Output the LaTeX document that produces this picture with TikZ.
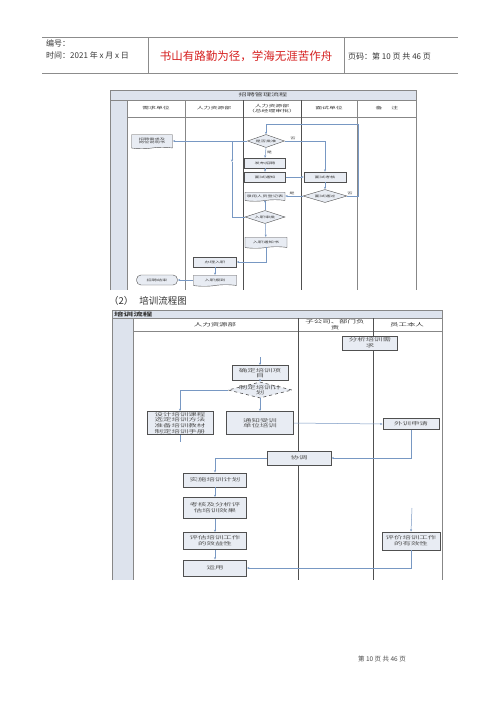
\documentclass[tikz,border=0pt]{standalone}
\usepackage{fontspec}
\setmainfont{Noto Sans CJK SC}
\newfontfamily\flowfont[FakeStretch=1.8]{Noto Sans CJK SC}
\usetikzlibrary{arrows.meta,shapes.geometric,shapes.symbols}
\definecolor{L1}{RGB}{135,135,135}
\definecolor{L2}{RGB}{80,80,80}
\definecolor{S1}{RGB}{221,227,237}
\definecolor{F1}{RGB}{232,236,243}
\definecolor{A1}{RGB}{120,152,195}
\definecolor{T1}{RGB}{55,55,55}
\definecolor{R1}{RGB}{214,32,32}
\tikzset{
  pagerule/.style={black!45, line width=0.8pt},
  pagetext/.style={font=\fontsize{8}{9}\selectfont, text=T1, inner sep=0pt},
  motto/.style={font=\fontsize{11.5}{12}\selectfont, text=R1, inner sep=0pt},
  frame/.style={L1, line width=0.5pt},
  lane/.style={L2, line width=0.9pt},
  flow/.style={A1, line width=0.5pt, -{Stealth[length=2.5pt,width=2pt]}},
  link/.style={A1, line width=0.5pt},
  tinyfont/.style={font=\flowfont\fontsize{2.9}{3.5}\selectfont},
  smallfont/.style={font=\flowfont\fontsize{4.7}{5.6}\selectfont},
  titleA/.style={font=\flowfont\fontsize{4.5}{5}\selectfont, text=T1, inner sep=0pt},
  headA/.style={font=\flowfont\fontsize{3.8}{4.4}\selectfont, text=T1, align=center, inner sep=0pt},
  boxA/.style={draw=L2, fill=F1, line width=0.4pt, inner sep=0.3pt, align=center,
    text=T1, tinyfont, minimum width=41pt, minimum height=10pt},
  docA/.style={boxA, tape, tape bend top=none, tape bend height=1.5pt},
  decA/.style={draw=L2, fill=F1, line width=0.4pt, diamond, inner sep=0pt,
    minimum width=40pt, minimum height=13pt},
  endA/.style={boxA, rounded corners=4.5pt},
  lblA/.style={tinyfont, text=T1, inner sep=0.3pt},
  inA/.style={tinyfont, text=T1, align=center},
  titleB/.style={font=\flowfont\bfseries\fontsize{5.3}{6}\selectfont, text=T1, inner sep=0pt},
  headB/.style={smallfont, text=T1, align=center, inner sep=0pt},
  boxB/.style={draw=L2, fill=F1, line width=0.8pt, inner sep=0.5pt, align=center,
    text=T1!85, smallfont, minimum width=63pt},
  decB/.style={draw=L2, fill=F1, line width=0.6pt, dashed, diamond, inner sep=0pt,
    minimum width=64pt, minimum height=16pt},
  inB/.style={smallfont, text=T1!85, align=center}
}
\begin{document}
\begin{tikzpicture}[x=1pt, y=-1pt]
\useasboundingbox[fill=white] (0,0) rectangle (500,707);

% page header
\draw[pagerule] (42,37) -- (458,37);
\draw[pagerule] (42,73) -- (458,73);
\draw[pagerule] (148,37) -- (148,73);
\draw[pagerule] (344,37) -- (344,73);
\node[pagetext, anchor=west] (num) at (46,43) {编号：};
\node[pagetext, anchor=west] (date) at (46,55) {时间：2021 年 x 月 x 日};
\node[motto] (motto) at (246,56) {书山有路勤为径，学海无涯苦作舟};
\node[pagetext, anchor=west] (page) at (348,56) {页码：第 10 页 共 46 页};

% chart 1: frame
\fill[S1] (110,90) rectangle (416,100);
\fill[S1] (110,100) rectangle (127,290);
\draw[frame] (110,290) -- (110,90) -- (416,90) -- (416,290);
\draw[frame] (110,100) -- (416,100);
\draw[frame] (127,117) -- (416,117);
\foreach \x in {127,185,357} \draw[frame] (\x,100) -- (\x,290);
\foreach \x in {243,301} \draw[lane] (\x,100) -- (\x,290);
\node[titleA] (tA) at (263,95) {招聘管理流程};
\foreach \x/\t [count=\i] in {156/需求单位, 214/人力资源部, 272/{人力资源部\\（总经理审批）},
    329/面试单位, 387/{备\hspace{9pt}注}}
  \node[headA] (hA\i) at (\x,108.5) {\t};

% chart 1: steps
\node[docA, minimum height=14pt] (need) at (152,141) {招聘需求及\\岗位说明书};
\node[decA, minimum width=37pt, label={[inA]center:是否批准}] (ok1) at (266,141) {};
\node[boxA] (post) at (265,163) {发布招聘};
\node[boxA] (note) at (265,177) {面试通知};
\node[boxA, minimum width=42pt] (test) at (325,177) {面试考核};
\node[decA, minimum width=44pt, label={[inA]center:面试通过}] (pass) at (325,196) {};
\node[docA, minimum width=40pt, minimum height=9pt] (form) at (265,196) {录用人员登记表};
\node[decA, label={[inA]center:入职审批}] (chk) at (265,217) {};
\node[docA, minimum width=42pt, minimum height=11pt] (letter) at (266,242) {入职通知书};
\node[boxA, minimum width=43pt] (entry) at (215,262) {办理入职};
\node[docA, minimum width=43pt, minimum height=11pt] (rep) at (215,280) {入职报到};
\node[endA] (stop) at (157,280) {招聘结束};

% chart 1: connectors
\coordinate (jA) at (232,141);
\coordinate (jB) at (232,162);
\coordinate (jC) at (358,124);
\draw[flow] (ok1.west) -- (need.east);
\draw[flow] (jA) -- (jB);
\draw[link] (jB) |- (chk.west);
\draw[flow] (ok1.east) -| (test.north);
\draw[flow] (ok1.south) -- (post.north);
\draw[flow] (post) -- (note);
\draw[flow] (note) -- (test);
\draw[flow] (test) -- (pass);
\draw[flow] (pass.west) -- (form.east);
\draw[flow] (pass.east) -| (jC) -| (ok1.north);
\draw[flow] (chk.north) -- (form.south);
\draw[flow] (chk) -- (letter);
\draw[flow] (letter.south) |- (entry.east);
\draw[flow] (entry) -- (rep);
\draw[flow] (rep.west) -- (stop.east);
\node[lblA] (no1) at (293,138.5) {否};
\node[lblA] (yes1) at (269.5,152) {是};
\node[lblA] (yes2) at (292,193.5) {是};
\node[lblA] (no2) at (350,193.5) {否};

% section title
\node[font=\fontsize{9.5}{10}\selectfont, text=black!80, anchor=west, inner sep=0pt] (sec)
  at (109,301) {（2）\hspace{6pt}培训流程图};

% chart 2: frame
\fill[S1] (112,310) rectangle (442,318);
\fill[S1] (112,318) rectangle (133,580);
\draw[frame] (112,580) -- (112,310) -- (442,310) -- (442,580);
\draw[frame] (112,318) -- (442,318);
\draw[frame] (133,331) -- (442,331);
\draw[frame] (133,318) -- (133,580);
\foreach \x in {298,373} \draw[lane] (\x,318) -- (\x,580);
\node[titleB, anchor=west] (tB) at (114,314) {培训流程};
\node[headB] (hB1) at (215,324.5) {人力资源部};
\node[headB] (hB2) at (335,324.5) {子公司、部门负\\责};
\node[headB] (hB3) at (407,324.5) {员工本人};

% chart 2: steps
\node[boxB, minimum width=55pt, minimum height=14pt] (need2) at (370,343) {分析培训需\\求};
\node[boxB, minimum width=56pt, minimum height=15pt] (item) at (260,373) {确定培训项\\目};
\node[decB, label={[inB]center:制定培训计\\划}] (plan) at (260,390) {};
\node[boxB, minimum width=66pt, minimum height=23pt] (prep) at (180,423)
  {设计培训课程\\选定培训方法\\准备培训教材\\制定培训手册};
\node[boxB, minimum width=67pt, minimum height=23pt] (call) at (260,423) {通知受训\\单位培训};
\node[boxB, minimum width=56pt, minimum height=11pt] (ext) at (411,424) {外训申请};
\node[boxB, minimum width=64pt, minimum height=14pt] (coord) at (299,458) {协调};
\node[boxB, minimum height=14pt] (run) at (215,480) {实施培训计划};
\node[boxB, minimum height=21pt] (eval) at (215,508) {考核及分析评\\估培训效果};
\node[boxB, minimum height=17pt] (rate) at (215,541) {评估培训工作\\的效益性};
\node[boxB, minimum height=16pt] (use) at (215,568) {运用};
\node[boxB, minimum width=58pt, minimum height=18pt] (self) at (411,541) {评价培训工作\\的有效性};

% chart 2: connectors
\coordinate (kA) at (260,357);
\coordinate (kB) at (180,442);
\coordinate (kC) at (215,458);
\coordinate (kD) at (412,508);
\draw[flow] (kA) -- (item.north);
\draw[flow] (item) -- (plan);
\draw[flow] (plan.west) -| (prep.north);
\draw[flow] (plan.south) -- (call.north);
\draw[link] (prep.south) -- (kB);
\draw[flow] (call.east) -- (ext.west);
\draw[flow] (ext.south) |- (coord.east);
\draw[link] (coord.west) -- (kC);
\draw[flow] (kC) -- (run.north);
\draw[flow] (run) -- (eval);
\draw[flow] (eval) -- (rate);
\draw[flow] (rate) -- (use);
\draw[flow] (kD) -- (self.north);
\draw[flow] (self.south) |- (use.east);

% footer
\node[font=\fontsize{6.5}{7}\selectfont, text=black!70, anchor=east, inner sep=0pt] (foot)
  at (406,659) {第 10 页 共 46 页};
\end{tikzpicture}
\end{document}
